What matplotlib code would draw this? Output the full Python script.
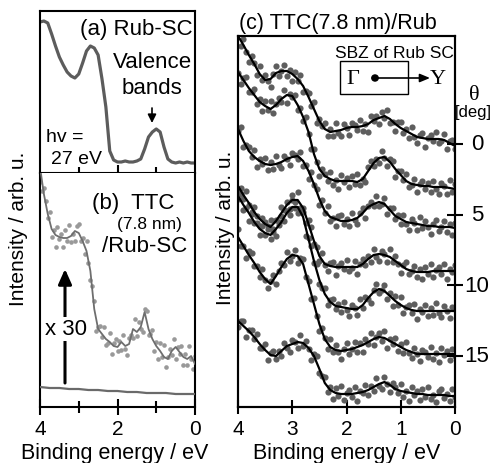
import numpy as np
import matplotlib
matplotlib.use('Agg')
import matplotlib.pyplot as plt
from matplotlib.patches import Rectangle, FancyArrowPatch, Circle
import matplotlib.transforms as mtransforms

plt.rcParams['font.family'] = ['Liberation Sans', 'DejaVu Sans']

# ---------------- data ----------------
energy = np.linspace(4.0, 0.0, 41)        # line grid (eV)
dot_energy = np.linspace(4.0, 0.0, 81)    # measured points grid (eV)

# (a) Rub-SC valence band
a_intensity = [151, 152, 150, 139, 127, 116, 108, 101, 97, 95, 99, 110, 122, 127, 125, 118, 94, 66, 22, 13,
               11, 11, 12, 11, 11, 12, 14, 24, 36, 41, 44, 41, 26, 14, 11, 10, 11, 10, 11, 10, 10]

# (b) TTC(7.8 nm)/Rub-SC
b_line = [240, 213, 193, 178, 172, 170, 169, 169, 171, 176, 174, 166, 156, 136, 98, 78, 73, 68, 65, 61,
          60, 65, 61, 63, 78, 75, 80, 95, 78, 68, 61, 56, 50, 48, 56, 60, 55, 50, 48, 51, 43]
b_dots = [225, 216, 219, 206, 189, 195, 170, 177, 160, 180, 168, 173, 160, 177, 166, 182, 165, 173, 166, 181,
          183, 166, 169, 153, 166, 144, 127, 121, 106, 76, 80, 81, 70, 80, 62, 64, 74, 53, 64, 68,
          56, 66, 57, 72, 58, 52, 69, 72, 69, 88, 71, 85, 78, 75, 98, 96, 72, 73, 77, 56,
          65, 48, 64, 50, 62, 40, 50, 58, 52, 68, 48, 60, 53, 61, 42, 53, 42, 61, 48, 38, 51]
b_base_energy = [4.0, 3.75, 3.5, 3.25, 3.0, 2.75, 2.5, 2.25, 2.0, 1.75, 1.5, 1.25, 1.0, 0.75, 0.5, 0.25, 0.0]
b_base = [20, 19, 19, 18, 18, 17, 17, 16, 16, 15, 15, 14, 14, 14, 13, 13, 13]

# (c) angle-resolved spectra (offset), fitted lines and measured points
c_lines = [
    [371, 362, 352, 343, 333, 327, 328, 334, 336, 336, 333, 328, 321, 310, 298, 286, 278, 275, 276, 277,
     279, 280, 280, 281, 283, 287, 289, 291, 288, 283, 279, 276, 273, 270, 269, 268, 268, 268, 267, 264, 261],
    [335, 327, 319, 312, 305, 301, 298, 302, 308, 312, 311, 302, 290, 275, 253, 238, 231, 228, 226, 226,
     226, 226, 225, 228, 236, 244, 249, 250, 245, 238, 232, 226, 223, 222, 221, 221, 220, 220, 220, 219, 218],
    [278, 266, 256, 250, 246, 243, 242, 243, 245, 248, 250, 251, 246, 236, 223, 208, 196, 190, 188, 186,
     186, 187, 189, 194, 200, 203, 205, 203, 197, 191, 188, 185, 184, 183, 182, 181, 181, 180, 180, 180, 179],
    [221, 212, 204, 195, 188, 183, 180, 186, 194, 202, 207, 207, 199, 183, 166, 151, 143, 141, 140, 140,
     140, 140, 140, 143, 148, 152, 153, 152, 150, 146, 142, 138, 136, 135, 135, 135, 136, 136, 136, 136, 136],
    [211, 202, 194, 185, 178, 174, 172, 178, 185, 194, 200, 200, 190, 168, 146, 127, 113, 105, 101, 100,
     99, 98, 98, 102, 109, 115, 118, 116, 111, 106, 102, 99, 97, 96, 96, 96, 96, 96, 96, 96, 96],
    [170, 161, 152, 144, 135, 128, 123, 131, 140, 148, 152, 151, 143, 123, 103, 83, 68, 60, 57, 56,
     57, 58, 60, 62, 65, 68, 70, 69, 66, 63, 60, 57, 55, 53, 53, 53, 53, 53, 53, 53, 53],
    [86, 81, 76, 70, 63, 57, 52, 51, 56, 61, 63, 65, 64, 59, 51, 38, 24, 17, 14, 13,
     13, 13, 14, 15, 17, 20, 23, 25, 22, 18, 16, 15, 14, 13, 13, 12, 12, 12, 12, 11, 11],
]
c_dots = [
    [374, 361, 368, 355, 345, 351, 344, 332, 341, 327, 332, 326, 320, 333, 341, 331, 336, 342, 331, 337,
     326, 335, 326, 332, 315, 316, 314, 301, 305, 284, 288, 281, 284, 271, 278, 271, 284, 274, 271, 283,
     279, 272, 284, 282, 277, 287, 276, 283, 275, 291, 286, 291, 283, 295, 289, 297, 284, 285, 276, 285,
     285, 274, 278, 269, 280, 270, 264, 272, 274, 260, 269, 272, 266, 275, 264, 266, 273, 258, 266, 267, 258],
    [334, 323, 329, 330, 315, 315, 318, 303, 308, 296, 306, 297, 306, 294, 303, 309, 305, 317, 304, 313,
     310, 312, 297, 299, 286, 290, 273, 258, 258, 245, 231, 238, 233, 226, 235, 222, 227, 218, 232, 225,
     229, 220, 231, 223, 233, 222, 228, 225, 240, 246, 241, 248, 244, 256, 249, 241, 248, 246, 230, 236,
     236, 227, 233, 220, 222, 228, 215, 223, 226, 218, 224, 215, 226, 218, 213, 224, 221, 213, 227, 215, 223],
    [276, 280, 260, 262, 260, 250, 257, 240, 248, 243, 249, 237, 245, 238, 251, 242, 239, 251, 248, 242,
     254, 252, 248, 255, 241, 242, 228, 235, 222, 218, 202, 207, 194, 201, 186, 189, 181, 191, 192, 183,
     188, 181, 194, 187, 183, 194, 199, 189, 201, 205, 201, 211, 201, 203, 209, 193, 199, 199, 188, 192,
     183, 192, 183, 177, 188, 184, 177, 190, 179, 186, 180, 173, 183, 187, 176, 180, 186, 175, 183, 172, 184],
    [216, 219, 208, 216, 202, 193, 200, 191, 181, 189, 185, 178, 187, 178, 187, 182, 200, 197, 205, 198,
     212, 205, 215, 199, 199, 184, 187, 180, 163, 160, 146, 154, 142, 136, 144, 145, 132, 141, 144, 138,
     147, 136, 139, 146, 133, 143, 148, 142, 151, 145, 158, 150, 146, 156, 153, 145, 158, 145, 151, 143,
     134, 142, 145, 133, 136, 141, 130, 138, 128, 140, 133, 143, 130, 137, 140, 133, 143, 128, 138, 135, 142],
    [208, 213, 197, 199, 186, 195, 184, 184, 172, 181, 172, 181, 168, 175, 171, 185, 191, 186, 196, 192,
     207, 199, 194, 198, 195, 171, 169, 161, 144, 143, 123, 119, 119, 102, 107, 108, 98, 103, 95, 105,
     97, 91, 102, 99, 92, 108, 99, 110, 108, 104, 117, 123, 114, 117, 122, 108, 114, 101, 111, 102,
     110, 94, 100, 102, 94, 103, 88, 98, 95, 102, 91, 99, 92, 104, 94, 90, 101, 96, 89, 100, 98],
    [178, 161, 161, 149, 156, 154, 141, 141, 130, 138, 127, 119, 126, 132, 123, 136, 144, 142, 155, 146,
     151, 157, 144, 149, 148, 130, 126, 108, 109, 91, 76, 79, 69, 58, 68, 55, 62, 55, 48, 58,
     64, 53, 58, 65, 55, 64, 55, 68, 63, 74, 62, 70, 74, 66, 76, 59, 68, 63, 69, 56,
     63, 54, 65, 54, 49, 59, 53, 46, 57, 55, 50, 60, 48, 54, 45, 59, 52, 56, 47, 58, 51],
    [80, 86, 86, 70, 77, 77, 68, 73, 59, 59, 63, 47, 54, 56, 48, 56, 51, 64, 59, 55,
     67, 65, 59, 72, 61, 66, 58, 47, 53, 51, 34, 31, 30, 15, 20, 8, 19, 11, 21, 7,
     14, 17, 10, 20, 6, 16, 14, 22, 12, 21, 16, 29, 21, 18, 30, 23, 15, 24, 20, 14,
     23, 10, 16, 6, 20, 12, 16, 7, 18, 10, 20, 8, 12, 5, 16, 18, 9, 13, 6, 18, 10],
]
theta_ticks = [0, 5, 10, 15]
theta_labels = ['0', '5', '10', '15']

# ---------------- figure ----------------
W, H = 490, 464
fig = plt.figure(figsize=(W / 100, H / 100), dpi=100)
FS = 16
TFS = 15


def fx(x):
    return x / W


def fy(y):
    return 1 - y / H


def px(x, y):
    return (fx(x), fy(y))


def arrow(p0, p1, style, lw):
    fig.add_artist(FancyArrowPatch(px(*p0), px(*p1), transform=fig.transFigure, arrowstyle=style,
                                   color='black', lw=lw, shrinkA=0, shrinkB=0))


SPW = 1.5
ax_a = fig.add_axes([fx(40), fy(174), fx(195) - fx(40), fy(12) - fy(174)])
ax_b = fig.add_axes([fx(40), fy(408), fx(195) - fx(40), fy(174) - fy(408)])
ax_c = fig.add_axes([fx(238), fy(408), fx(455) - fx(238), fy(37) - fy(408)])

for ax in (ax_a, ax_b, ax_c):
    ax.set_xlim(4, 0)
    ax.set_yticks([])
    for s in ax.spines.values():
        s.set_linewidth(SPW)

# (a)
ax_a.set_ylim(0, 162)
ax_a.plot(energy, a_intensity, color='#5c5c5c', lw=2.3, solid_joinstyle='round')
ax_a.set_xticks([2])
ax_a.set_xticks([3, 1], minor=True)
ax_a.tick_params(axis='x', which='major', direction='inout', length=12, width=1.5, labelbottom=False)
ax_a.tick_params(axis='x', which='minor', direction='inout', length=9, width=1.5)

# (b)
ax_b.set_ylim(0, 234)
ax_b.scatter(dot_energy, b_dots, s=11, color='#999999', linewidths=0, zorder=2)
ax_b.plot(energy, b_line, color='#6e6e6e', lw=1.3, zorder=3)
ax_b.plot(b_base_energy, b_base, color='#6a6a6a', lw=1.6, zorder=3)
ax_b.set_xticks([4, 2, 0])
ax_b.set_xticks([3, 1], minor=True)
ax_b.set_xticklabels(['4', '2', '0'], fontsize=TFS)
ax_b.tick_params(axis='x', which='major', direction='inout', length=12, width=1.5, pad=3)
ax_b.tick_params(axis='x', which='minor', direction='inout', length=9, width=1.5)
ax_b.spines['top'].set_visible(False)

# (c)
ax_c.set_ylim(0, 371)
for dots in c_dots:
    ax_c.scatter(dot_energy, dots, s=20, color='#5e5e5e', linewidths=0, zorder=2)
for line in c_lines:
    ax_c.plot(energy, line, color='black', lw=1.6, zorder=3)
ax_c.set_xticks([4, 3, 2, 1, 0])
ax_c.set_xticklabels(['4', '3', '2', '1', '0'], fontsize=TFS)
ax_c.tick_params(axis='x', which='major', direction='inout', length=10, width=1.5, pad=4)

ax_t = ax_c.twinx()
ax_t.set_ylim(18.61, -7.64)
ax_t.set_yticks(theta_ticks)
ax_t.tick_params(axis='y', direction='inout', length=11, width=1.5, labelright=False)
for s in ax_t.spines.values():
    s.set_linewidth(SPW)
tr = mtransforms.blended_transform_factory(fig.transFigure, ax_t.transData)
for t, lab in zip(theta_ticks, theta_labels):
    ax_t.text(fx(477), t, lab, transform=tr, ha='center', va='center', fontsize=FS)

# axis titles
fig.text(*px(115, 459), 'Binding energy / eV', fontsize=15.5, ha='center', va='baseline')
fig.text(*px(347, 459), 'Binding energy / eV', fontsize=15.5, ha='center', va='baseline')
fig.text(*px(18, 229), 'Intensity / arb. u.', fontsize=15, rotation=90, ha='center', va='center')
fig.text(*px(225, 228), 'Intensity / arb. u.', fontsize=15, rotation=90, ha='center', va='center')

# ---------------- annotations ----------------
fig.text(*px(80, 29), '(a) Rub-SC', fontsize=FS, ha='left', va='center')
fig.text(*px(152, 62), 'Valence', fontsize=FS, ha='center', va='center')
fig.text(*px(152, 89), 'bands', fontsize=FS, ha='center', va='center')
arrow((152, 109), (152, 124), '-|>,head_width=2.5,head_length=5', 1.2)
fig.text(*px(46, 137), 'hv =', fontsize=14, ha='left', va='center')
fig.text(*px(51, 160), '27 eV', fontsize=14, ha='left', va='center')

fig.text(*px(92, 203), '(b)  TTC', fontsize=FS, ha='left', va='center')
fig.text(*px(149, 224), '(7.8 nm)', fontsize=12.5, ha='center', va='center')
fig.text(*px(102, 247), '/Rub-SC', fontsize=FS, ha='left', va='center')
arrow((65, 384), (65, 270), '-|>,head_width=4,head_length=9', 2.2)
fig.text(*px(66, 330), 'x 30', fontsize=FS, ha='center', va='center',
         bbox=dict(facecolor='white', edgecolor='none', pad=1))

fig.text(*px(239, 24), '(c) TTC(7.8 nm)/Rub', fontsize=15.5, ha='left', va='center')
fig.text(*px(394, 53), 'SBZ of Rub SC', fontsize=12.5, ha='center', va='center')
fig.add_artist(Rectangle(px(340, 95), fx(408) - fx(340), fy(62) - fy(95), transform=fig.transFigure,
                         fill=False, edgecolor='black', lw=1.0))
fig.text(*px(353, 79), 'Γ', fontsize=16, ha='center', va='center', family='Liberation Serif')
arrow((375, 79), (430, 79), '-|>,head_width=2.5,head_length=6', 1.2)
fig.add_artist(Circle(px(375, 79), 3.2 / W, transform=fig.transFigure, color='black'))
fig.text(*px(438, 79), 'Y', fontsize=16, ha='center', va='center', family='Liberation Serif')
fig.text(*px(474, 95), 'θ', fontsize=16, ha='center', va='center', family='Liberation Serif')
fig.text(*px(473, 112), '[deg]', fontsize=12, ha='center', va='center')

fig.savefig('out.png', dpi=100)
